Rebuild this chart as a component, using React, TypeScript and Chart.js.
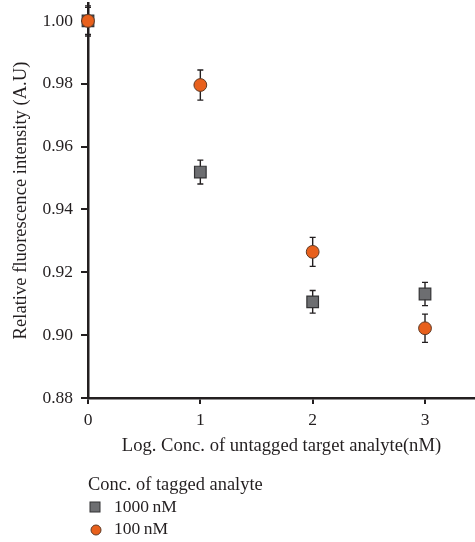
import React, { useEffect, useRef } from "react";
import { Chart, registerables } from "chart.js";

Chart.register(...registerables);

const xValues = [0, 1, 2, 3];
const series1000 = [1.0, 0.9519, 0.9106, 0.9131];
const err1000 = [0.0048, 0.0038, 0.0036, 0.0037];
const series100 = [1.0, 0.9796, 0.9265, 0.9022];
const err100 = [0.0043, 0.0048, 0.0046, 0.0045];
const yTicks = [0.88, 0.9, 0.92, 0.94, 0.96, 0.98, 1.0];
const xTicks = [0, 1, 2, 3];
const seriesNames = ["1000\u2009nM", "100\u2009nM"];
const legendTitle = "Conc. of tagged analyte";
const xTitle = "Log. Conc. of untagged target analyte(nM)";
const yTitle = "Relative fluorescence intensity (A.U)";

const FONT = "'Liberation Serif', 'Times New Roman', serif";
const TEXT = "#231f20";
const SQ_FILL = "#6d6e71";
const SQ_BORDER = "#333335";
const CI_FILL = "#e8601c";
const CI_BORDER = "#5e3a26";

const errorsByDataset = [err1000, err100];

const errorBarPlugin = {
  id: "errorBars",
  beforeDatasetsDraw(chart: any) {
    const ctx = chart.ctx;
    const xs = chart.scales.x;
    const ys = chart.scales.y;
    ctx.save();
    ctx.strokeStyle = "#231f20";
    ctx.lineWidth = 1.4;
    chart.data.datasets.forEach((ds: any, di: number) => {
      const errs = errorsByDataset[di];
      ds.data.forEach((p: any, i: number) => {
        const px = xs.getPixelForValue(p.x);
        const top = ys.getPixelForValue(p.y + errs[i]);
        const bot = ys.getPixelForValue(p.y - errs[i]);
        ctx.beginPath();
        ctx.moveTo(px, top);
        ctx.lineTo(px, bot);
        ctx.moveTo(px - 3, top);
        ctx.lineTo(px + 3, top);
        ctx.moveTo(px - 3, bot);
        ctx.lineTo(px + 3, bot);
        ctx.stroke();
      });
    });
    ctx.restore();
  },
};

const legendPlugin = {
  id: "customLegend",
  afterDraw(chart: any) {
    const ctx = chart.ctx;
    const left = chart.chartArea.left;
    ctx.save();
    ctx.font = `18.4px ${FONT}`;
    ctx.fillStyle = TEXT;
    ctx.textBaseline = "middle";
    ctx.textAlign = "left";
    ctx.fillText(legendTitle, left, 485);
    ctx.font = `17.5px ${FONT}`;
    // square item
    ctx.fillStyle = SQ_FILL;
    ctx.strokeStyle = SQ_BORDER;
    ctx.lineWidth = 1;
    ctx.fillRect(left + 2, 502, 10, 10);
    ctx.strokeRect(left + 2, 502, 10, 10);
    ctx.fillStyle = TEXT;
    ctx.fillText(seriesNames[0], left + 26, 507);
    // circle item
    ctx.beginPath();
    ctx.arc(left + 8, 530, 5, 0, Math.PI * 2);
    ctx.fillStyle = CI_FILL;
    ctx.fill();
    ctx.strokeStyle = CI_BORDER;
    ctx.stroke();
    ctx.fillStyle = TEXT;
    ctx.fillText(seriesNames[1], left + 26, 529);
    ctx.restore();
  },
};

const zeroPad = (s: any) => {
  s.paddingTop = 0;
  s.paddingBottom = 0;
  s.paddingLeft = 0;
  s.paddingRight = 0;
};

export default function App() {
  const ref = useRef<HTMLCanvasElement>(null);
  useEffect(() => {
    if (!ref.current) return;
    const chart = new Chart(ref.current, {
      type: "scatter",
      data: {
        datasets: [
          {
            label: seriesNames[0],
            data: xValues.map((x, i) => ({ x, y: series1000[i] })),
            pointStyle: "rect",
            pointRadius: 8.2,
            backgroundColor: SQ_FILL,
            borderColor: SQ_BORDER,
            borderWidth: 1.2,
            clip: false as any,
            order: 2,
          },
          {
            label: seriesNames[1],
            data: xValues.map((x, i) => ({ x, y: series100[i] })),
            pointStyle: "circle",
            pointRadius: 6.4,
            backgroundColor: CI_FILL,
            borderColor: CI_BORDER,
            borderWidth: 1,
            clip: false as any,
            order: 1,
          },
        ],
      },
      options: {
        animation: false,
        responsive: false,
        layout: { autoPadding: false, padding: { top: 3, bottom: 82, left: 0, right: 0 } } as any,
        plugins: { legend: { display: false }, tooltip: { enabled: false } },
        scales: {
          x: {
            type: "linear",
            min: 0,
            max: 3.445,
            afterBuildTicks: (s: any) => {
              s.ticks = xTicks.map((v) => ({ value: v }));
            },
            afterFit: (s: any) => {
              s.height = 62;
              zeroPad(s);
            },
            border: { color: "#231f20", width: 2.5 },
            grid: { drawOnChartArea: false, color: "#231f20", lineWidth: 2, tickLength: 6 },
            ticks: {
              color: TEXT,
              font: { family: FONT, size: 17.5 },
              padding: 6,
              maxRotation: 0,
              callback: (v: any) => String(v),
            },
            title: {
              display: true,
              text: xTitle,
              color: TEXT,
              font: { family: FONT, size: 18.6 },
              padding: { top: 0, bottom: 3 },
            },
          },
          y: {
            type: "linear",
            min: 0.88,
            max: 1.0057,
            afterBuildTicks: (s: any) => {
              s.ticks = yTicks.map((v) => ({ value: v }));
            },
            afterFit: (s: any) => {
              s.width = 88;
              zeroPad(s);
            },
            border: { color: "#231f20", width: 2.5 },
            grid: { drawOnChartArea: false, color: "#231f20", lineWidth: 2, tickLength: 7 },
            ticks: {
              color: TEXT,
              font: { family: FONT, size: 17.5 },
              padding: 8,
              callback: (v: any) => Number(v).toFixed(2),
            },
            title: {
              display: true,
              text: yTitle,
              color: TEXT,
              font: { family: FONT, size: 18.6 },
              padding: { top: 10, bottom: 0 },
            },
          },
        },
      },
      plugins: [errorBarPlugin, legendPlugin],
    });
    return () => chart.destroy();
  }, []);
  return (
    <div style={{ position: "fixed", left: 0, top: 0, width: 475, height: 542, background: "#fff" }}>
      <canvas ref={ref} width={475} height={542} style={{ width: 475, height: 542 }} />
    </div>
  );
}
